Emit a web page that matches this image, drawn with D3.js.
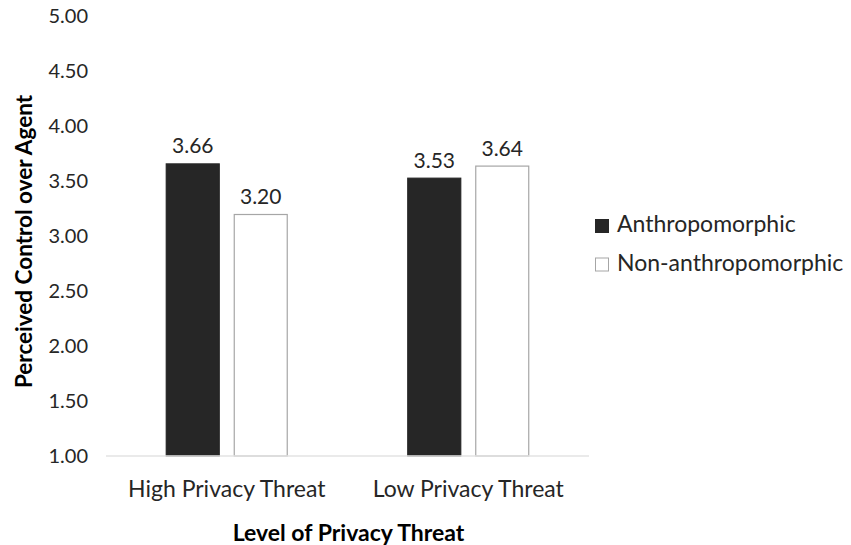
<!DOCTYPE html>
<html>
<head>
<meta charset="utf-8">
<script src="https://cdn.jsdelivr.net/npm/d3@7"></script>
<style>
  html, body { margin: 0; padding: 0; background: #fff; }
  svg { display: block; font-family: Lato, "Open Sans", sans-serif; }
</style>
</head>
<body>
<svg id="chart" width="851" height="545"></svg>
<script>
// Chart data
const categories = ["High Privacy Threat", "Low Privacy Threat"];
const seriesNames = ["Anthropomorphic", "Non-anthropomorphic"];
const anthropomorphic = [3.66, 3.53];
const nonAnthropomorphic = [3.20, 3.64];
const yTicks = [1.00, 1.50, 2.00, 2.50, 3.00, 3.50, 4.00, 4.50, 5.00];
const seriesFill = ["#262626", "#ffffff"];
const seriesStroke = ["#262626", "#a6a6a6"];

const svg = d3.select("#chart");
const plot = { left: 106, right: 589, top: 16, bottom: 456 };
const textColor = "#262626";

const x0 = d3.scaleBand().domain(categories).range([plot.left, plot.right]);
const x1 = d3.scaleBand().domain(seriesNames).range([0, x0.bandwidth()])
  .paddingInner(0.206).paddingOuter(0.879);
const y = d3.scaleLinear().domain([1, 5]).range([plot.bottom, plot.top]);

// Y axis tick labels
const yAxis = d3.axisLeft(y).tickValues(yTicks).tickFormat(d3.format(".2f")).tickSize(0).tickPadding(18);
const gy = svg.append("g").attr("transform", `translate(${plot.left},0)`).call(yAxis);
gy.select(".domain").remove();
gy.selectAll("text").attr("font-size", 20).attr("fill", textColor).attr("font-family", "Lato, sans-serif");

// Bars
const rows = categories.map((c, i) => ({ cat: c, vals: [anthropomorphic[i], nonAnthropomorphic[i]] }));
const groups = svg.append("g").selectAll("g").data(rows).join("g")
  .attr("transform", d => `translate(${x0(d.cat)},0)`);

groups.selectAll("rect").data(d => d.vals.map((v, j) => ({ v, s: seriesNames[j], j })))
  .join("rect")
  .attr("x", d => x1(d.s) + 0.5)
  .attr("y", d => y(d.v) + 0.5)
  .attr("width", x1.bandwidth() - 1)
  .attr("height", d => y(1) - y(d.v) - 0.5)
  .attr("fill", d => seriesFill[d.j])
  .attr("stroke", d => seriesStroke[d.j])
  .attr("stroke-width", 1.2);

// Value labels
groups.selectAll("text.val").data(d => d.vals.map((v, j) => ({ v, s: seriesNames[j] })))
  .join("text").attr("class", "val")
  .attr("x", d => x1(d.s) + x1.bandwidth() / 2)
  .attr("y", d => y(d.v) - 10)
  .attr("text-anchor", "middle")
  .attr("font-size", 21)
  .attr("fill", textColor)
  .text(d => d3.format(".2f")(d.v));

// Baseline
svg.append("line")
  .attr("x1", plot.left).attr("x2", plot.right)
  .attr("y1", y(1)).attr("y2", y(1))
  .attr("stroke", "#e3e3e3").attr("stroke-width", 1.5);

// Category axis labels
const xAxis = d3.axisBottom(x0).tickSize(0).tickPadding(0);
const gx = svg.append("g").attr("transform", `translate(0,${plot.bottom})`).call(xAxis);
gx.select(".domain").remove();
gx.selectAll("text").attr("font-size", 23).attr("fill", textColor)
  .attr("font-family", "Lato, sans-serif").attr("dy", null).attr("y", 41);

// Axis titles
svg.append("text")
  .attr("x", (plot.left + plot.right) / 2 + 1).attr("y", 541)
  .attr("text-anchor", "middle").attr("font-size", 23).attr("font-weight", "bold").attr("fill", "#000")
  .text("Level of Privacy Threat");

svg.append("text")
  .attr("transform", `translate(31.5,241.5) rotate(-90)`)
  .attr("text-anchor", "middle").attr("font-size", 22.5).attr("font-weight", "bold").attr("fill", "#000")
  .text("Perceived Control over Agent");

// Legend
const legend = svg.append("g").selectAll("g").data(seriesNames).join("g")
  .attr("transform", (d, i) => `translate(595,${232 + i * 38.5})`);
legend.append("rect")
  .attr("x", 0.5).attr("y", -12.5).attr("width", 13).attr("height", 13)
  .attr("fill", (d, i) => seriesFill[i]).attr("stroke", (d, i) => seriesStroke[i]);
legend.append("text")
  .attr("x", 22).attr("y", 0)
  .attr("font-size", 23).attr("fill", textColor)
  .text(d => d);
</script>
</body>
</html>
